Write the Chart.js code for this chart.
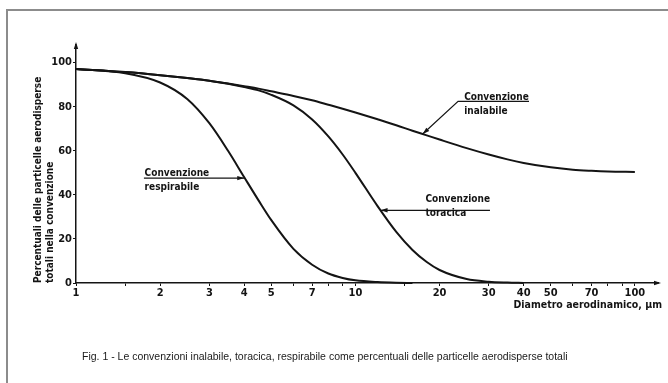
<!DOCTYPE html>
<html>
<head>
<meta charset="utf-8">
<script src="https://cdn.jsdelivr.net/npm/chart.js@4/dist/chart.umd.min.js"></script>
<style>
  html, body { margin: 0; padding: 0; background: #fff; }
  #wrap { width: 668px; height: 383px; }
</style>
</head>
<body>
<div id="wrap"><canvas id="myChart" width="668" height="383"></canvas></div>
<script>
// diametro aerodinamico (um)
const diametri = [1, 1.5, 2, 2.5, 3, 3.5, 4, 4.5, 5, 6, 7, 8, 9, 10, 12, 14, 16, 18, 20, 25, 30, 35, 40, 50, 60, 70, 80, 100];
// percentuali
const inalabile = [97.1, 95.7, 94.3, 93.0, 91.8, 90.5, 89.3, 88.2, 87.0, 84.9, 82.9, 80.9, 79.1, 77.4, 74.3, 71.6, 69.1, 67.0, 65.1, 61.2, 58.3, 56.1, 54.5, 52.5, 51.4, 50.9, 50.6, 50.4];
const toracica = [97.1, 95.7, 94.3, 93.0, 91.8, 90.4, 88.9, 87.4, 85.4, 80.6, 74.2, 66.5, 58.3, 50.0, 34.9, 23.2, 15.0, 9.5, 5.9, 1.8, 0.6, 0.2, 0, null, null, null, null, null];
const respirabile = [97.1, 95.2, 91.0, 83.5, 72.5, 60.0, 48.0, 37.5, 28.5, 15.5, 8.3, 4.3, 2.3, 1.2, 0.4, 0.1, 0, null, null, null, null, null, null, null, null, null, null, null];

const xTicks = [1, 1.5, 2, 3, 4, 5, 6, 7, 8, 9, 10, 15, 20, 30, 40, 50, 60, 70, 80, 90, 100];
const xLabels = [1, 2, 3, 4, 5, 7, 10, 20, 30, 40, 50, 70, 100];
const yTicks = [0, 20, 40, 60, 80, 100];

// etichette: [riga1, riga2, x testo, y testo (valore), punta freccia x, punta y, gomito x, gomito y, fine linea x]
const noteInalabile = ['Convenzione', 'inalabile', 24.5, 83.2, 17.4, 67.6, 23.3, 82.4, 41.8];
const noteToracica = ['Convenzione', 'toracica', 17.8, 36.6, 12.3, 33.0, 12.3, 33.0, 30.3];
const noteRespirabile = ['Convenzione', 'respirabile', 1.76, 48.6, 4.0, 48.0, 1.75, 47.6, 1.75];

const ink = '#141414';
const lblFont = '"DejaVu Sans Condensed", "DejaVu Sans", sans-serif';

function serie(vals) {
  const out = [];
  diametri.forEach((d, i) => { if (vals[i] !== null) out.push({ x: d, y: vals[i] }); });
  return out;
}

function freccia(ctx, x0, y0, x1, y1) {
  const a = Math.atan2(y1 - y0, x1 - x0);
  const L = 7, W = 2.2;
  ctx.beginPath();
  ctx.moveTo(x1, y1);
  ctx.lineTo(x1 - L * Math.cos(a) + W * Math.sin(a), y1 - L * Math.sin(a) - W * Math.cos(a));
  ctx.lineTo(x1 - L * Math.cos(a) - W * Math.sin(a), y1 - L * Math.sin(a) + W * Math.cos(a));
  ctx.closePath();
  ctx.fill();
}

const decorazioni = {
  id: 'decorazioni',
  afterDraw(chart) {
    const ctx = chart.ctx;
    const xs = chart.scales.x, ys = chart.scales.y;
    const ca = chart.chartArea;
    ctx.save();
    // cornice
    ctx.strokeStyle = '#8c8c8c';
    ctx.lineWidth = 2;
    ctx.beginPath();
    ctx.moveTo(7, 383);
    ctx.lineTo(7, 10);
    ctx.lineTo(668, 10);
    ctx.stroke();

    // frecce degli assi
    ctx.fillStyle = ink;
    freccia(ctx, ca.left, ca.top + 20, ca.left, ca.top - 3);
    freccia(ctx, ca.right - 20, ca.bottom, ca.right + 3, ca.bottom);

    // titolo asse y
    ctx.font = 'bold 10px ' + lblFont;
    ctx.textAlign = 'left';
    ctx.textBaseline = 'middle';
    ctx.save();
    ctx.translate(38, 283);
    ctx.rotate(-Math.PI / 2);
    ctx.fillText('Percentuali delle particelle aerodisperse', 0, 0, 236);
    ctx.fillText('totali nella convenzione', 0, 12);
    ctx.restore();

    // titolo asse x
    ctx.textAlign = 'right';
    ctx.font = 'bold 10.5px ' + lblFont;
    ctx.fillText('Diametro aerodinamico, \u00b5m', 662, 305);

    // didascalia
    ctx.textAlign = 'left';
    ctx.font = '10.5px "Liberation Sans", Arial, sans-serif';
    ctx.fillStyle = '#1a1a1a';
    ctx.fillText('Fig. 1 - Le convenzioni inalabile, toracica, respirabile come percentuali delle particelle aerodisperse totali', 82, 357, 487);

    // etichette delle curve
    ctx.fillStyle = ink;
    ctx.strokeStyle = ink;
    ctx.lineWidth = 1.2;
    ctx.font = 'bold 10px ' + lblFont;
    ctx.textBaseline = 'alphabetic';
    [noteInalabile, noteToracica, noteRespirabile].forEach(n => {
      const tx = xs.getPixelForValue(n[2]), ty = ys.getPixelForValue(n[3]);
      const px = xs.getPixelForValue(n[4]), py = ys.getPixelForValue(n[5]);
      const gx = xs.getPixelForValue(n[6]), gy = ys.getPixelForValue(n[7]);
      const ex = xs.getPixelForValue(n[8]);
      ctx.fillText(n[0], tx, ty);
      ctx.fillText(n[1], tx, ty + 14);
      ctx.beginPath();
      if (n === noteRespirabile) {
        ctx.moveTo(gx, gy);
        ctx.lineTo(px, gy);
        ctx.stroke();
        freccia(ctx, px - 10, gy, px, gy);
      } else if (n === noteToracica) {
        ctx.moveTo(ex, gy);
        ctx.lineTo(px, gy);
        ctx.stroke();
        freccia(ctx, px + 10, gy, px, gy);
      } else {
        ctx.moveTo(ex, gy);
        ctx.lineTo(gx, gy);
        ctx.lineTo(px, py);
        ctx.stroke();
        freccia(ctx, gx, gy, px, py);
      }
    });
    ctx.restore();
  }
};

const curva = (label, vals) => ({
  label: label,
  data: serie(vals),
  showLine: true,
  borderColor: ink,
  borderWidth: 2,
  pointRadius: 0,
  cubicInterpolationMode: 'monotone',
  clip: false
});

const ctx = document.getElementById('myChart');
new Chart(ctx, {
  type: 'scatter',
  data: {
    datasets: [
      curva('Convenzione inalabile', inalabile),
      curva('Convenzione toracica', toracica),
      curva('Convenzione respirabile', respirabile)
    ]
  },
  options: {
    responsive: false,
    animation: false,
    layout: { padding: { left: 0, right: 10, top: 45, bottom: 80 } },
    plugins: { legend: { display: false }, tooltip: { enabled: false } },
    scales: {
      x: {
        type: 'logarithmic',
        min: 1,
        max: 121,
        border: { color: ink, width: 1.5 },
        grid: { drawOnChartArea: false, color: ink, tickLength: 3 },
        afterBuildTicks: s => { s.ticks = xTicks.map(v => ({ value: v })); },
        afterFit: s => { s.height = 20; },
        ticks: {
          autoSkip: false,
          maxRotation: 0,
          padding: 1,
          color: ink,
          font: { family: lblFont, weight: 'bold', size: 11 },
          callback: v => xLabels.includes(v) ? String(v) : ''
        }
      },
      y: {
        min: 0,
        max: 108,
        border: { color: ink, width: 1.5 },
        grid: { drawOnChartArea: false, color: ink, tickLength: 3 },
        afterBuildTicks: s => { s.ticks = yTicks.map(v => ({ value: v })); },
        afterFit: s => { s.width = 76; },
        ticks: {
          padding: 1,
          color: ink,
          font: { family: lblFont, weight: 'bold', size: 11 }
        }
      }
    }
  },
  plugins: [decorazioni]
});
</script>
</body>
</html>
